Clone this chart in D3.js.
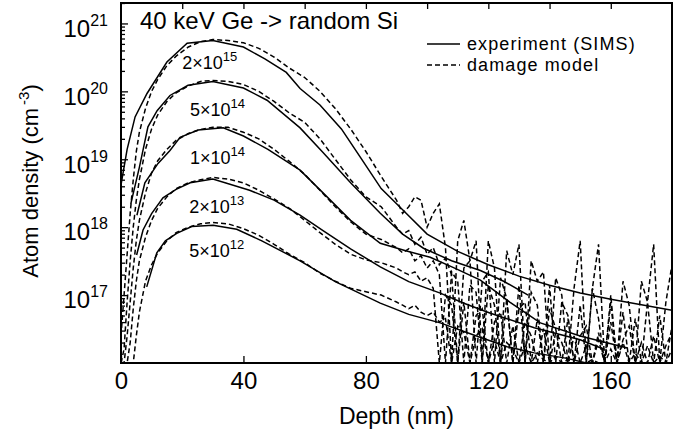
<!DOCTYPE html>
<html>
<head>
<meta charset="utf-8">
<script src="https://cdn.jsdelivr.net/npm/d3@7"></script>
<style>
  body { margin: 0; background: #fff; }
  svg text { font-family: "Liberation Sans", Arial, Helvetica, sans-serif; fill: #000; }
</style>
</head>
<body>
<div id="chart"></div>
<script>
// SIMS profiles (solid lines): depth in nm, Ge density in cm^-3
var simsDepth2e15 = [0, 2, 4.6, 8.5, 15, 21.6, 30, 40, 47, 54, 58.5, 65, 72, 78, 85, 92, 100, 110, 120, 130, 140, 150, 160, 170, 180];
var sims2e15 = [4.2e18, 1.4e19, 4.2e19, 9.3e19, 2.7e20, 5.1e20, 5.6e20, 4.5e20, 3.0e20, 1.9e20, 1.1e20, 6.3e19, 2.8e19, 1.1e19, 3.7e18, 1.8e18, 7.9e17, 4.4e17, 2.8e17, 1.9e17, 1.4e17, 1.07e17, 8.7e16, 7.2e16, 6.0e16];

var simsDepth5e14 = [3.2, 6, 8.8, 11.8, 16, 21.9, 30, 40, 47.7, 58.5, 66, 75, 84.7, 92, 98.8, 108, 117.4, 125, 133];
var sims5e14 = [2.2e18, 7.6e18, 3.0e19, 5.2e19, 8.7e19, 1.23e20, 1.4e20, 1.12e20, 7.4e19, 2.9e19, 1.26e19, 4.5e18, 1.6e18, 7.9e17, 4.9e17, 3.2e17, 2.3e17, 1.6e17, 1.0e17];

var simsDepth1e14 = [5.2, 7.8, 12.1, 16, 19.3, 25.2, 33.4, 40, 48, 58.5, 66, 75, 84.7, 93, 101, 109, 117.4, 127, 137, 150, 165.5];
var sims1e14 = [1.5e18, 4.5e18, 8.7e18, 1.35e19, 2.1e19, 2.7e19, 2.9e19, 2.2e19, 1.4e19, 6.9e18, 3.2e18, 1.26e18, 5.8e17, 4.5e17, 3.6e17, 2.5e17, 1.66e17, 7.9e16, 3.9e16, 2.5e16, 1.66e16];

var simsDepth2e13 = [5.1, 7.2, 10, 13.7, 18, 22.6, 30, 42, 50, 58.5, 66, 75, 84.7, 94, 104.3, 112, 120.7, 135, 150, 158];
var sims2e13 = [3.9e17, 9.1e17, 1.58e18, 2.7e18, 3.6e18, 4.5e18, 5.1e18, 3.5e18, 2.5e18, 1.5e18, 8.9e17, 4.8e17, 2.6e17, 1.58e17, 1.07e17, 7.6e16, 5.4e16, 3.3e16, 2.2e16, 1.58e16];

var simsDepth5e12 = [8.4, 11.7, 14.5, 18.2, 23.1, 30.1, 37.8, 46, 58.5, 70, 84.7, 94, 104.3, 115, 126.1, 135, 145.7, 152];
var sims5e12 = [1.32e17, 4.2e17, 6.3e17, 8.1e17, 1.02e18, 1.07e18, 9.3e17, 6.3e17, 3.2e17, 1.58e17, 7.6e16, 5.2e16, 3.9e16, 2.6e16, 1.74e16, 1.41e16, 1.17e16, 9.5e15];

// damage model (dashed lines), all on one depth grid; 0 = empty bin
var modelDepth = [0, 1, 2, 3, 4, 5, 6, 8, 10, 12, 15, 18, 22, 26, 30, 35, 40, 45, 50, 55, 60, 65, 70, 75, 80, 85, 90,
  92, 94, 96, 98, 100, 102, 104, 106, 108, 110, 112, 114, 116, 118, 120, 122, 124, 126, 128, 130, 132, 134, 136, 138,
  140, 142, 144, 146, 148, 150, 152, 154, 156, 158, 160, 162, 164, 166, 168, 170, 172, 174, 176, 178, 180];

var model2e15 = [2.5e16, 1e17, 4e17, 1.6e18, 5e18, 1.3e19, 2.5e19, 5.6e19, 1e20, 1.5e20, 2.4e20, 3.3e20, 4.5e20, 5.4e20,
  5.8e20, 5.6e20, 5.2e20, 4.3e20, 3.2e20, 2.2e20, 1.6e20, 1e20, 5.6e19, 2.8e19, 1.3e19, 5.6e18, 2.5e18,
  1.6e18, 2e18, 2.8e18, 2.5e18, 1e18, 1.6e18, 2.2e18, 5e17, 0, 6.3e17, 1.26e18, 3.2e17, 6.3e17, 0, 6.3e17, 2.5e17, 0,
  4.5e17, 2e17, 5.6e17, 0, 3.2e17, 1.6e17, 2.2e17, 0, 1.8e17, 1e17, 0, 1.26e17, 6.3e17, 0, 1.26e17, 5.6e17, 0,
  1e17, 0, 1.6e17, 7.1e16, 0, 1.6e17, 7.9e16, 5.6e17, 0, 7.9e16, 2.8e17];

var model5e14 = [3e15, 1.6e16, 7.9e16, 3.2e17, 1e18, 2.5e18, 5e18, 1.4e19, 2.8e19, 4.5e19, 7.1e19, 9.5e19, 1.2e20, 1.4e20,
  1.45e20, 1.4e20, 1.26e20, 1e20, 7.1e19, 4.8e19, 3.5e19, 2e19, 1e19, 5e18, 2.8e18, 2e18, 1e18,
  7.9e17, 8.9e17, 5.6e17, 7.1e17, 4e17, 5e17, 2.8e17, 3.5e17, 2e17, 0, 2.5e17, 3.2e17, 0, 1.6e17, 2.2e17, 0,
  1.8e17, 8.9e16, 0, 1.4e17, 0, 1.1e17, 7.1e16, 0, 1.4e17, 0, 7.9e16, 5e16, 0, 7.1e16, 0, 1.26e17, 4.5e16, 0,
  7.9e16, 0, 5.6e16, 0, 4.5e16, 0, 7.9e16, 0, 5e16, 0, 3.5e16];

var model1e14 = [1e15, 6e15, 2.5e16, 7.9e16, 2.5e17, 6.3e17, 1.26e18, 3.2e18, 6.3e18, 9.5e18, 1.4e19, 1.9e19, 2.4e19, 2.75e19,
  2.95e19, 2.95e19, 2.5e19, 2e19, 1.4e19, 9.3e18, 6e18, 3.5e18, 2e18, 1.2e18, 7.9e17, 6.6e17, 5e17,
  4.2e17, 4.8e17, 3.2e17, 3.8e17, 2.5e17, 3.2e17, 2e17, 0, 2.2e17, 1.6e17, 0, 1.4e17, 1.1e17, 0, 1.4e17, 7.1e16, 0,
  8.9e16, 0, 6.3e16, 7.9e16, 0, 4.5e16, 0, 6.3e16, 3.2e16, 0, 4.5e16, 0, 2.5e16, 3.5e16, 0, 2.8e16, 0,
  4e16, 0, 2.2e16, 3.5e16, 0, 2e16, 0, 2.5e16, 0, 1.8e16, 2.8e16];

var model2e13 = [1e15, 1e15, 6e15, 2e16, 6.3e16, 1.6e17, 3.2e17, 7.1e17, 1.26e18, 1.9e18, 2.8e18, 3.7e18, 4.5e18, 5e18,
  5.4e18, 5.1e18, 4.5e18, 3.5e18, 2.6e18, 1.9e18, 1.26e18, 8.3e17, 5.6e17, 4e17, 3.3e17, 3e17, 2.5e17,
  2.2e17, 2e17, 2.2e17, 1.6e17, 1.8e17, 1.26e17, 0, 1e17, 7.1e16, 0, 7.9e16, 0, 5e16, 6.3e16, 0, 4e16, 5.6e16,
  0, 3.5e16, 0, 4e16, 2.5e16, 0, 3.2e16, 0, 2.8e16, 2e16, 0, 2.5e16, 0, 1.8e16, 0, 2.2e16, 0,
  1.6e16, 0, 2e16, 0, 1.4e16, 0, 1.8e16, 0, 1.26e16, 0, 1.6e16];

var model5e12 = [1e15, 1e15, 1e15, 4e15, 1e16, 2.5e16, 5.6e16, 1.6e17, 2.8e17, 4.2e17, 6.3e17, 8.3e17, 1e18, 1.12e18,
  1.17e18, 1.12e18, 9.5e17, 7.6e17, 5.6e17, 4e17, 3e17, 2.1e17, 1.6e17, 1.26e17, 1.12e17, 1e17, 7.9e16,
  7.1e16, 6.3e16, 7.1e16, 5.6e16, 5e16, 5.6e16, 4e16, 4.5e16, 0, 3.5e16, 2.8e16, 0, 2.5e16, 3.2e16, 0, 2.2e16, 0,
  2e16, 1.6e16, 0, 1.8e16, 0, 1.4e16, 1.12e16, 0, 1.26e16, 0, 1.12e16, 0, 1e16, 0, 1.12e16, 0, 9e15,
  0, 1e16, 0, 8e15, 0, 1e16, 0, 9e15, 0, 8e15, 0];

// curve labels (implanted dose, cm^-2)
var doseMantissa = ["2", "5", "1", "2", "5"];
var doseExponent = ["15", "14", "14", "13", "12"];

var xTicks = [0, 40, 80, 120, 160];
var xTopTicks = [20, 40, 60, 80, 100, 120, 140, 160];
var yMajorTicks = [1e17, 1e18, 1e19, 1e20, 1e21];

function init() {
    var W = 689, H = 435;
    var margin = {top: 3, right: 17, bottom: 72, left: 121};
    var w = W - margin.left - margin.right;
    var h = H - margin.top - margin.bottom;

    var svg = d3.select("#chart").append("svg")
        .attr("width", W)
        .attr("height", H);

    var g = svg.append("g")
        .attr("transform", "translate(" + margin.left + "," + margin.top + ")");

    var xScale = d3.scaleLinear().domain([0, 180]).range([0, w]);
    var yScale = d3.scaleLog().domain([1e16, 2e21]).range([h, 0]).clamp(true);

    g.append("clipPath").attr("id", "plotclip")
        .append("rect").attr("width", w).attr("height", h);

    var line = d3.line()
        .x(function (d) { return xScale(d[0]); })
        .y(function (d) { return yScale(d[1]); });

    var plot = g.append("g").attr("clip-path", "url(#plotclip)");

    var sims = [[simsDepth2e15, sims2e15], [simsDepth5e14, sims5e14], [simsDepth1e14, sims1e14],
                [simsDepth2e13, sims2e13], [simsDepth5e12, sims5e12]];
    var models = [model2e15, model5e14, model1e14, model2e13, model5e12];

    models.forEach(function (m) {
        plot.append("path")
            .datum(d3.zip(modelDepth, m))
            .attr("d", line)
            .attr("fill", "none")
            .attr("stroke", "#000")
            .attr("stroke-width", 1.5)
            .attr("stroke-dasharray", "5,3");
    });

    sims.forEach(function (s) {
        plot.append("path")
            .datum(d3.zip(s[0], s[1]))
            .attr("d", line)
            .attr("fill", "none")
            .attr("stroke", "#000")
            .attr("stroke-width", 1.5);
    });

    // axes, ticks point inward
    var xAxis = g.append("g")
        .attr("transform", "translate(0," + h + ")")
        .call(d3.axisBottom(xScale).tickValues(xTicks).tickSizeInner(-7).tickSizeOuter(0).tickPadding(9));
    xAxis.attr("font-size", null).attr("font-family", null);
    xAxis.selectAll("text").style("font-size", "24px");

    g.append("g")
        .call(d3.axisTop(xScale).tickValues(xTopTicks).tickSizeInner(-6).tickSizeOuter(0).tickFormat(""));

    var yMinor = yScale.ticks().filter(function (d) {
        return Math.abs(Math.log10(d) - Math.round(Math.log10(d))) > 1e-6;
    });
    g.append("g")
        .call(d3.axisLeft(yScale).tickValues(yMinor).tickSizeInner(-4).tickSizeOuter(0).tickFormat(""));

    var yAxis = g.append("g")
        .call(d3.axisLeft(yScale).tickValues(yMajorTicks).tickSizeInner(-7).tickSizeOuter(0).tickPadding(13));
    yAxis.attr("font-size", null).attr("font-family", null);
    yAxis.selectAll(".tick text")
        .text(null)
        .attr("dy", "0.53em")
        .style("font-size", "24px")
        .each(function (d) {
            var t = d3.select(this);
            t.append("tspan").text("10");
            t.append("tspan").attr("dy", -11).style("font-size", "16px").text(Math.round(Math.log10(d)));
        });

    g.selectAll(".domain").remove();
    g.selectAll(".tick line").attr("stroke", "#000").attr("stroke-width", 1.3);

    g.append("rect")
        .attr("width", w)
        .attr("height", h)
        .attr("fill", "none")
        .attr("stroke", "#000")
        .attr("stroke-width", 2);

    // axis titles
    svg.append("text")
        .attr("x", margin.left + w / 2)
        .attr("y", 424)
        .attr("text-anchor", "middle")
        .style("font-size", "23px")
        .text("Depth (nm)");

    var yTitle = svg.append("text")
        .attr("transform", "translate(38," + (margin.top + 178) + ") rotate(-90)")
        .attr("text-anchor", "middle")
        .style("font-size", "22px");
    yTitle.append("tspan").text("Atom density (cm");
    yTitle.append("tspan").attr("dx", 3).attr("dy", -9).style("font-size", "15px").text("-3");
    yTitle.append("tspan").attr("dy", 9).text(")");

    svg.append("text")
        .attr("x", 140)
        .attr("y", 29)
        .style("font-size", "24px")
        .text("40 keV Ge -> random Si");

    // legend
    var legend = svg.append("g").attr("transform", "translate(427,44)");
    [["experiment (SIMS)", null], ["damage model", "5,3"]].forEach(function (item, i) {
        var row = legend.append("g").attr("transform", "translate(0," + (i * 21) + ")");
        row.append("line")
            .attr("x1", 0).attr("x2", 33)
            .attr("stroke", "#000").attr("stroke-width", 1.5)
            .attr("stroke-dasharray", item[1]);
        row.append("text")
            .attr("x", 40)
            .attr("dy", "0.35em")
            .style("font-size", "18px")
            .style("letter-spacing", "1.1px")
            .text(item[0]);
    });

    // dose labels under each peak
    var labelAnchor = [[20, 2.1e20], [22.5, 4.4e19], [22.5, 8.5e18], [22.3, 1.6e18], [22.3, 3.6e17]];
    labelAnchor.forEach(function (a, i) {
        var t = g.append("text")
            .attr("x", xScale(a[0]))
            .attr("y", yScale(a[1]))
            .style("font-size", "18px");
        t.append("tspan").text(doseMantissa[i] + "\u00d710");
        t.append("tspan").attr("dy", -8).style("font-size", "13px").text(doseExponent[i]);
    });
}
window.onload = init;
</script>
</body>
</html>
